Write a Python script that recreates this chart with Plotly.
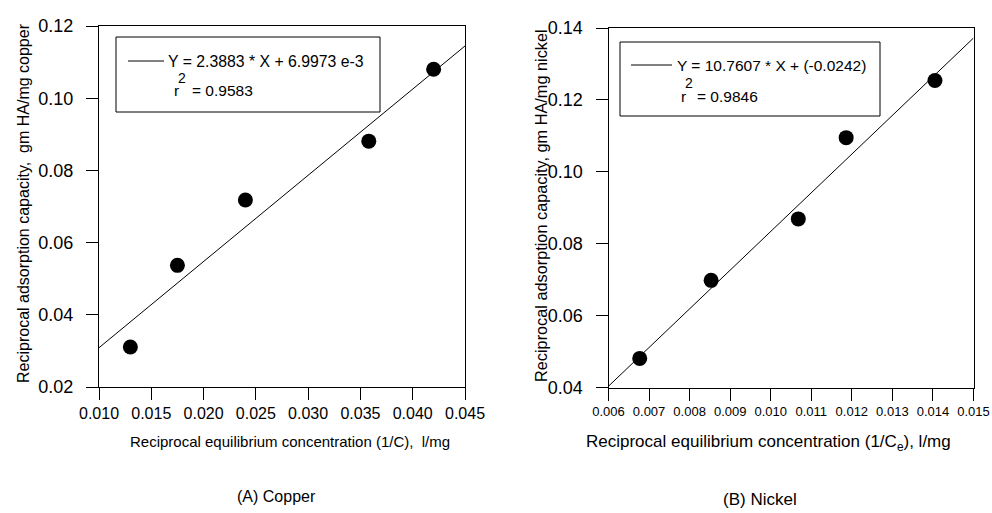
import plotly.graph_objects as go

W, H = 992, 513

# Data
cu_x = [0.0130, 0.0175, 0.0240, 0.0358, 0.0420]
cu_y = [0.0311, 0.0537, 0.0718, 0.0881, 0.1080]
cu_slope, cu_icpt = 2.3883, 6.9973e-3
cu_fit_x = [0.010, 0.045]

ni_x = [0.00677, 0.00853, 0.01068, 0.01186, 0.01405]
ni_y = [0.0481, 0.0698, 0.0869, 0.1095, 0.1254]
ni_slope, ni_icpt = 10.7607, -0.0242
ni_fit_x = [0.006, 0.015]

cu_xticks = [0.010, 0.015, 0.020, 0.025, 0.030, 0.035, 0.040, 0.045]
cu_yticks = [0.02, 0.04, 0.06, 0.08, 0.10, 0.12]
ni_xticks = [0.006, 0.007, 0.008, 0.009, 0.010, 0.011, 0.012, 0.013, 0.014, 0.015]
ni_yticks = [0.04, 0.06, 0.08, 0.10, 0.12, 0.14]

FONT = "Liberation Sans, Arial, sans-serif"

def px(x):
    return x / W

def py(y):
    return 1 - y / H

fig = go.Figure()

fig.add_trace(go.Scatter(x=cu_fit_x, y=[cu_slope * v + cu_icpt for v in cu_fit_x],
                         mode="lines", line=dict(color="black", width=1),
                         xaxis="x", yaxis="y", showlegend=False, cliponaxis=False))
fig.add_trace(go.Scatter(x=cu_x, y=cu_y, mode="markers",
                         marker=dict(color="black", size=15),
                         xaxis="x", yaxis="y", showlegend=False))
fig.add_trace(go.Scatter(x=ni_fit_x, y=[ni_slope * v + ni_icpt for v in ni_fit_x],
                         mode="lines", line=dict(color="black", width=1),
                         xaxis="x2", yaxis="y2", showlegend=False, cliponaxis=False))
fig.add_trace(go.Scatter(x=ni_x, y=ni_y, mode="markers",
                         marker=dict(color="black", size=15),
                         xaxis="x2", yaxis="y2", showlegend=False))

axis_common = dict(showline=True, linecolor="black", linewidth=1, mirror=True,
                   ticks="outside", ticklen=12, tickcolor="black", showgrid=False,
                   zeroline=False, color="black", automargin=False)

fig.update_layout(
    width=W, height=H,
    margin=dict(l=0, r=0, t=0, b=0, autoexpand=False),
    paper_bgcolor="white", plot_bgcolor="white",
    font=dict(family=FONT, color="black"),
    xaxis=dict(domain=[px(99), px(465)], range=[0.010, 0.045], tickvals=cu_xticks,
               tickformat=".3f", tickfont=dict(size=16), anchor="y", **axis_common),
    yaxis=dict(domain=[py(387), py(26)], range=[0.02, 0.12], tickvals=cu_yticks,
               tickformat=".2f", tickfont=dict(size=18), anchor="x",
               ticklabelstandoff=9, **axis_common),
    xaxis2=dict(domain=[px(608.5), px(973.5)], range=[0.006, 0.015], tickvals=ni_xticks,
                tickformat=".3f", tickfont=dict(size=13), anchor="y2", **axis_common),
    yaxis2=dict(domain=[py(387.5), py(28)], range=[0.04, 0.14], tickvals=ni_yticks,
                tickformat=".2f", tickfont=dict(size=18), anchor="x2",
                ticklabelstandoff=9, **axis_common),
)

shapes = []
# legend boxes
shapes.append(dict(type="rect", xref="paper", yref="paper",
                   x0=px(116), x1=px(380), y0=py(112), y1=py(37),
                   line=dict(color="black", width=1), fillcolor="white", layer="above"))
shapes.append(dict(type="line", xref="paper", yref="paper",
                   x0=px(128), x1=px(164), y0=py(61), y1=py(61),
                   line=dict(color="black", width=1), layer="above"))
shapes.append(dict(type="rect", xref="paper", yref="paper",
                   x0=px(620), x1=px(880), y0=py(116), y1=py(42),
                   line=dict(color="black", width=1), fillcolor="white", layer="above"))
shapes.append(dict(type="line", xref="paper", yref="paper",
                   x0=px(631), x1=px(672), y0=py(65), y1=py(65),
                   line=dict(color="black", width=1), layer="above"))
fig.update_layout(shapes=shapes)

def ann(text, x, y, size, xanchor="left", angle=0):
    return dict(text=text, x=px(x), y=py(y), xref="paper", yref="paper",
                showarrow=False, xanchor=xanchor, yanchor="middle", textangle=angle,
                font=dict(size=size, family=FONT, color="black"))

annotations = [
    ann("Y = 2.3883 * X + 6.9973 e-3", 166, 61, 15.8),
    ann("2", 176, 78, 14),
    ann("r", 172, 91, 15.5),
    ann("= 0.9583", 190, 91, 15.5),
    ann("Y = 10.7607 * X + (-0.0242)", 675, 65, 15.5),
    ann("2", 683, 83, 14),
    ann("r", 679, 96, 15.5),
    ann("= 0.9846", 695, 96, 15.5),
    ann("Reciprocal equilibrium concentration (1/C),  l/mg", 290, 441, 15, "center"),
    ann("Reciprocal equilibrium concentration (1/C<sub>e</sub>), l/mg", 768, 443, 17, "center"),
    ann("Reciprocal adsorption capacity,  gm HA/mg copper", 24, 203, 16, "center", -90),
    ann("Reciprocal adsorption capacity, gm HA/mg nickel", 541, 206, 16.3, "center", -90),
    ann("(A) Copper", 276, 496, 16, "center"),
    ann("(B) Nickel", 760, 499, 17, "center"),
]
fig.update_layout(annotations=annotations)

fig.write_html("out.html")
